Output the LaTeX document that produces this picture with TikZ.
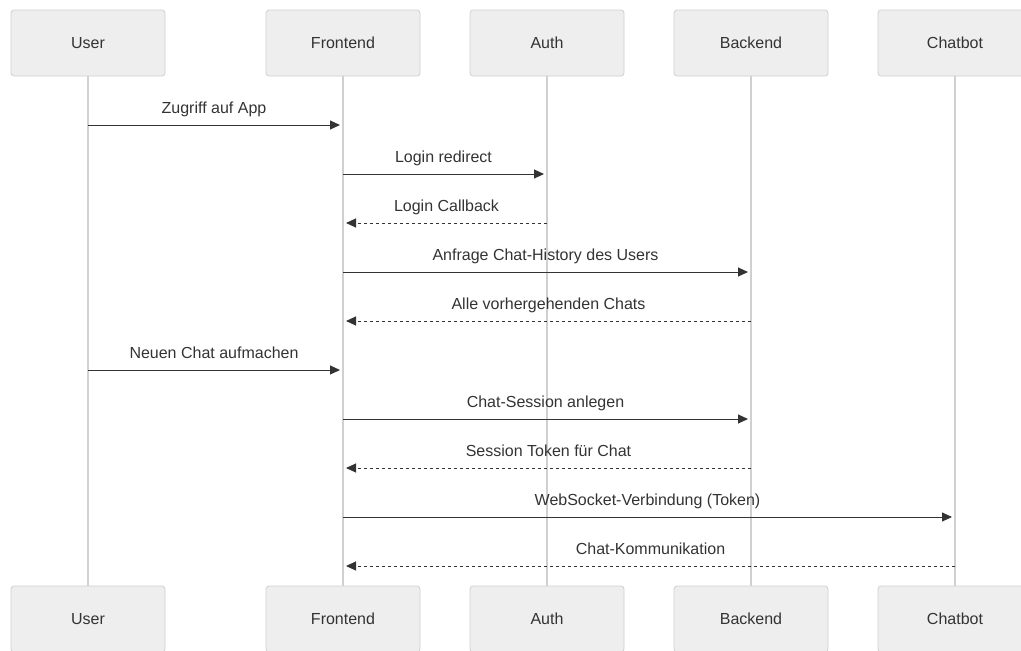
\documentclass[tikz,border=0pt]{standalone}
\usepackage{fontspec}
\setmainfont{Liberation Sans}
\usetikzlibrary{arrows.meta}
\definecolor{boxfill}{HTML}{EEEEEE}
\definecolor{boxdraw}{HTML}{CFCFCF}
\definecolor{life}{HTML}{D0D0D0}
\definecolor{ink}{HTML}{333333}
\tikzset{
  actor/.style={draw=boxdraw, fill=boxfill, rounded corners=3pt, minimum width=154pt, minimum height=66pt, inner sep=0pt, line width=0.8pt, text=ink, font=\fontsize{16}{19}\selectfont},
  lifeline/.style={draw=life, line width=1.8pt},
  msg/.style={draw=ink, line width=1pt, -{Triangle[length=10pt,width=9pt]}},
  reply/.style={msg, dash pattern=on 3pt off 3pt},
  lbl/.style={text=ink, font=\fontsize{16}{19}\selectfont, inner sep=0pt, anchor=base, yshift=12pt}
}
\begin{document}
\begin{tikzpicture}[x=1pt,y=-1pt]
\useasboundingbox (0,0) rectangle (1021,651);
% top actors
\node[actor] (uT) at (88,43) {User};
\node[actor] (fT) at (343,43) {Frontend};
\node[actor] (aT) at (547,43) {Auth};
\node[actor] (bT) at (751,43) {Backend};
\node[actor] (cT) at (955,43) {Chatbot};
% bottom actors
\node[actor] (uB) at (88,619) {User};
\node[actor] (fB) at (343,619) {Frontend};
\node[actor] (aB) at (547,619) {Auth};
\node[actor] (bB) at (751,619) {Backend};
\node[actor] (cB) at (955,619) {Chatbot};
% lifelines
\foreach \a in {u,f,a,b,c} {
  \draw[lifeline] (\a T.south) -- (\a B.north);
}
% message rows
\coordinate (m1) at (0,125);
\coordinate (m2) at (0,174);
\coordinate (m3) at (0,223);
\coordinate (m4) at (0,272);
\coordinate (m5) at (0,321);
\coordinate (m6) at (0,370);
\coordinate (m7) at (0,419);
\coordinate (m8) at (0,468);
\coordinate (m9) at (0,517);
\coordinate (m10) at (0,566);
% messages
\draw[msg] (uT |- m1) -- ([xshift=-3pt]fT |- m1) node[lbl, midway] {Zugriff auf App};
\draw[msg] (fT |- m2) -- ([xshift=-3pt]aT |- m2) node[lbl, midway] {Login redirect};
\draw[reply] (aT |- m3) -- ([xshift=3pt]fT |- m3) node[lbl, midway] {Login Callback};
\draw[msg] (fT |- m4) -- ([xshift=-3pt]bT |- m4) node[lbl, midway] {Anfrage Chat-History des Users};
\draw[reply] (bT |- m5) -- ([xshift=3pt]fT |- m5) node[lbl, midway] {Alle vorhergehenden Chats};
\draw[msg] (uT |- m6) -- ([xshift=-3pt]fT |- m6) node[lbl, midway] {Neuen Chat aufmachen};
\draw[msg] (fT |- m7) -- ([xshift=-3pt]bT |- m7) node[lbl, midway] {Chat-Session anlegen};
\draw[reply] (bT |- m8) -- ([xshift=3pt]fT |- m8) node[lbl, midway] {Session Token für Chat};
\draw[msg] (fT |- m9) -- ([xshift=-3pt]cT |- m9) node[lbl, midway] {WebSocket-Verbindung (Token)};
\draw[reply] (cT |- m10) -- ([xshift=3pt]fT |- m10) node[lbl, midway] {Chat-Kommunikation};
\end{tikzpicture}
\end{document}
